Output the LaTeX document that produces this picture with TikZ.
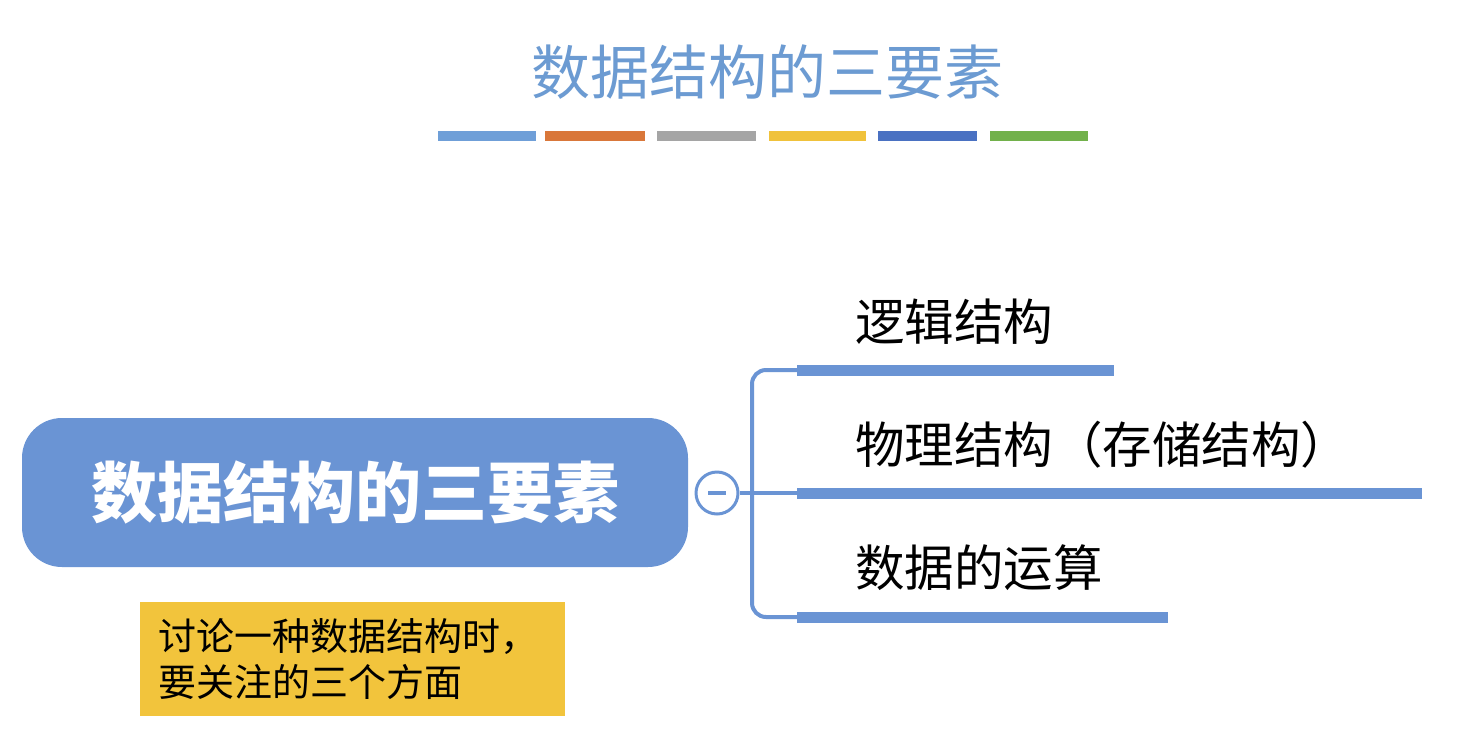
\documentclass[tikz,border=0pt]{standalone}
\usepackage{fontspec}
\newfontfamily\cjk{Noto Sans CJK SC}
\definecolor{tblue}{HTML}{6C9BD2}
\definecolor{mblue}{HTML}{6A94D4}
\definecolor{c1}{HTML}{6F9FD8}
\definecolor{c2}{HTML}{D9773A}
\definecolor{c3}{HTML}{A5A5A5}
\definecolor{c4}{HTML}{F0C23B}
\definecolor{c5}{HTML}{4A71C2}
\definecolor{c6}{HTML}{72B14B}
\definecolor{ybox}{HTML}{F2C43C}
\begin{document}
\begin{tikzpicture}[x=1pt,y=-1pt,
  branch/.style={anchor=west,font=\cjk\fontsize{49.5}{58}\selectfont,inner sep=0},
  bar/.style={fill=mblue,draw=none}]
\useasboundingbox (0,0) rectangle (1466,750);
\fill[white] (0,0) rectangle (1466,750);
\node[font=\cjk\fontsize{59}{66}\selectfont,text=tblue] (title) at (767,72) {数据结构的三要素};
\foreach \a/\b/\c in {438/536/c1,545/645/c2,657/756/c3,769/866/c4,878/977/c5,990/1088/c6}
  \fill[\c] (\a,131) rectangle (\b,141);
\node[fill=mblue,rounded corners=40pt,minimum width=666pt,minimum height=149pt,
  text=white,font=\cjk\bfseries\fontsize{66}{72}\selectfont] (main) at (355,492.5) {数据结构的三要素};
\node[circle,draw=mblue,line width=3pt,fill=white,minimum size=42pt,inner sep=0] (c) at (717,493) {};
\draw[mblue,line width=3.5pt] (c.center)++(-9,0) -- ++(18,0);
\coordinate (t) at (797,370);
\coordinate (m) at (797,493);
\coordinate (b) at (797,617);
\draw[mblue,line width=4pt,rounded corners=14pt] (t) -- (752,370) -- (752,617) -- (b);
\draw[mblue,line width=4pt] (c.east) -- (m);
\fill[bar] (797,365) rectangle (1114,376);
\fill[bar] (797,488) rectangle (1422,499);
\fill[bar] (797,612) rectangle (1168,623);
\node[branch] (l1) at (855,322) {逻辑结构};
\node[branch] (l2) at (855,445) {物理结构（存储结构）};
\node[branch] (l3) at (855,568) {数据的运算};
\node[fill=ybox,minimum width=425pt,minimum height=114pt,anchor=north west,inner sep=0] (y) at (140,602) {};
\node[anchor=west,align=left,inner sep=0,font=\cjk\fontsize{38}{46}\selectfont] (yt) at (158,659) {讨论一种数据结构时，\\要关注的三个方面};
\end{tikzpicture}
\end{document}
